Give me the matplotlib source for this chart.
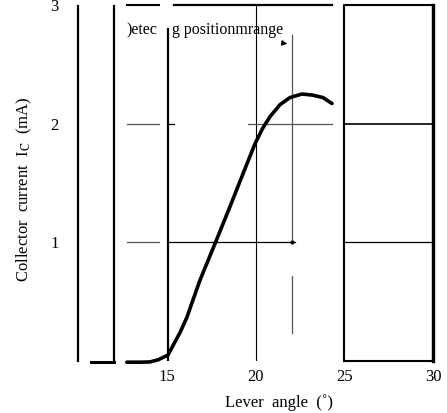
import matplotlib
matplotlib.use("Agg")
import matplotlib.pyplot as plt

plt.rcParams['font.family'] = ['Liberation Serif', 'DejaVu Serif']
plt.rcParams['mathtext.fontset'] = 'stix'

# Data
angle = [12.75, 13.5, 14.05, 14.51, 14.79, 15.07, 15.35, 15.75, 16.14, 16.42, 16.87,
         17.72, 18.56, 19.3, 19.97, 20.4, 20.82, 21.38, 21.94, 22.62, 23.24, 23.8, 24.31]
current = [-0.01, -0.01, -0.008, 0.01, 0.03, 0.05, 0.13, 0.24, 0.37, 0.49, 0.68,
           0.99, 1.30, 1.58, 1.83, 1.96, 2.06, 2.16, 2.22, 2.25, 2.24, 2.22, 2.17]
x_ticks = [15, 20, 25, 30]
x_tick_labels = ['15', '20', '25', '30']
y_ticks = [1, 2, 3]
y_tick_labels = ['1', '2', '3']

W, H = 447, 413
fig = plt.figure(figsize=(W / 100, H / 100), dpi=100)
ax = fig.add_axes([78 / W, 1 - 361 / H, (433 - 78) / W, (361 - 5) / H])
ax.set_xlim(10, 30)
ax.set_ylim(0, 3)
for s in ax.spines.values():
    s.set_visible(False)
ax.set_xticks(x_ticks)
ax.set_xticklabels(x_tick_labels, fontsize=12)
ax.set_yticks(y_ticks)
ax.set_yticklabels(y_tick_labels, fontsize=12)
ax.tick_params(length=0)
ax.tick_params(axis='x', pad=6)
ax.tick_params(axis='y', pad=14)

k = 'black'
g = '#555555'
# left frame lines
ax.plot([10, 10], [0, 2.99], color=k, lw=1.6, clip_on=False)
ax.plot([12.03, 12.03], [-0.005, 2.99], color=k, lw=1.6, clip_on=False)
ax.plot([10.75, 12.0], [-0.005, -0.005], color=k, lw=2.2, clip_on=False)
# gridlines left strip
for yv in [1, 2, 3]:
    ax.plot([12.75, 14.55], [yv, yv], color=g if yv < 3 else k, lw=0.9 if yv < 3 else 1.5, clip_on=False)
# main frame lines
ax.plot([15.08, 15.08], [-0.01, 2.8], color=k, lw=1.6)
ax.plot([20.03, 20.03], [0, 3], color=k, lw=0.8)
ax.plot([22.04, 22.04], [1.0, 2.75], color=g, lw=0.9)
ax.plot([22.04, 22.04], [0.24, 0.72], color=g, lw=0.9)
ax.plot([22.04], [1.0], marker='o', ms=2, color=k)
ax.plot([15.08, 22.2], [1, 1], color=k, lw=0.9)
ax.plot([15.08, 15.4], [2, 2], color=k, lw=0.9)
ax.plot([19.6, 24.3], [2, 2], color=g, lw=0.9)
ax.plot([15.4, 24.3], [3, 3], color=k, lw=1.6, clip_on=False)
# right box
ax.plot([25, 25, 30, 30, 25], [0, 3, 3, 0, 0], color=k, lw=1.5, clip_on=False)
ax.plot([30, 30], [0, 3], color=k, lw=2.4, clip_on=False)
ax.plot([25, 30], [1, 1], color=k, lw=0.9)
ax.plot([25, 30], [2, 2], color=k, lw=1.2)

# curve
ax.plot(angle, current, color=k, lw=2.6, solid_capstyle='round',
        solid_joinstyle='round', clip_on=False)

# annotation
ax.text(12.75, 2.79, ')etec', fontsize=11.5, va='center', ha='left')
ax.text(15.3, 2.79, 'g positionmrange', fontsize=11.5, va='center', ha='left')
ax.annotate('', xy=(21.95, 2.67), xytext=(21.5, 2.68),
            arrowprops=dict(arrowstyle='-|>', color=k, lw=0.8, mutation_scale=8))

# axis labels
ax.text(-0.152, 0.483, 'Collector  current  I$_{\\mathrm{C}}$  (mA)', transform=ax.transAxes,
        rotation=90, ha='center', va='center', fontsize=12)
ax.text(0.566, -0.118, 'Lever  angle  (\u02da)', transform=ax.transAxes,
        ha='center', va='center', fontsize=12)

fig.savefig('out.png', dpi=100)
